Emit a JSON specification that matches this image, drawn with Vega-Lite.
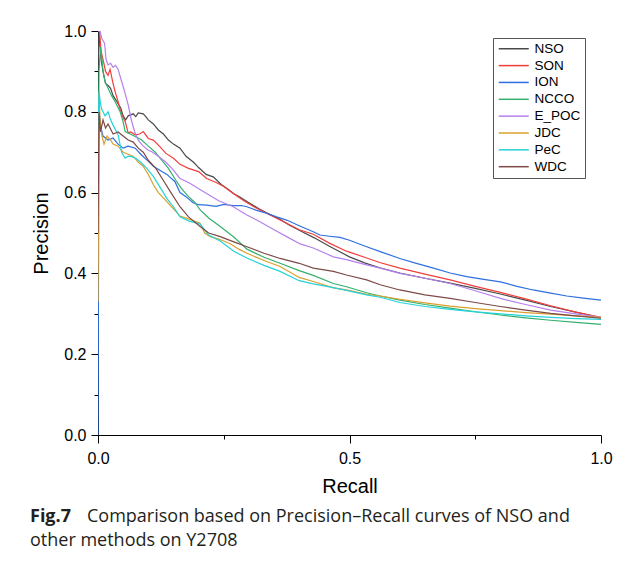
{
  "$schema": "https://vega.github.io/schema/vega-lite/v6.json",
  "width": 503,
  "height": 404,
  "autosize": {"type": "none"},
  "padding": {"left": 98, "top": 31, "right": 34, "bottom": 127},
  "background": "white",
  "config": {
    "view": {"stroke": null},
    "axis": {"labelFont": "Liberation Sans", "titleFont": "Liberation Sans", "labelColor": "black", "titleColor": "black", "domainColor": "black", "tickColor": "black", "grid": false, "titleFontWeight": "normal"}
  },
  "title": {
    "text": "Fig.7",
    "subtitle": ["\u200b\u2003\u2003\u2003\u2009Comparison based on Precision\u2013Recall curves of NSO and", "other methods on Y2708"],
    "orient": "bottom",
    "anchor": "start",
    "frame": "group",
    "dx": -68,
    "offset": 12,
    "font": "Open Sans",
    "fontSize": 18,
    "fontWeight": "bold",
    "color": "#231f20",
    "subtitleFont": "Open Sans",
    "subtitleFontSize": 18,
    "subtitleColor": "#231f20",
    "subtitlePadding": -18,
    "subtitleLineHeight": 24
  },
  "data": {
    "values": [
      {"m":"NSO","r":0,"p":0.9},{"m":"NSO","r":0.002,"p":1.0},{"m":"NSO","r":0.006,"p":0.93},{"m":"NSO","r":0.01,"p":0.9},{"m":"NSO","r":0.015,"p":0.87},{"m":"NSO","r":0.02,"p":0.865},{"m":"NSO","r":0.025,"p":0.858},{"m":"NSO","r":0.03,"p":0.84},{"m":"NSO","r":0.035,"p":0.83},{"m":"NSO","r":0.04,"p":0.82},{"m":"NSO","r":0.045,"p":0.81},{"m":"NSO","r":0.05,"p":0.79},{"m":"NSO","r":0.055,"p":0.78},{"m":"NSO","r":0.06,"p":0.79},{"m":"NSO","r":0.07,"p":0.795},{"m":"NSO","r":0.075,"p":0.788},{"m":"NSO","r":0.08,"p":0.797},{"m":"NSO","r":0.09,"p":0.795},{"m":"NSO","r":0.095,"p":0.788},{"m":"NSO","r":0.1,"p":0.78},{"m":"NSO","r":0.11,"p":0.77},{"m":"NSO","r":0.12,"p":0.755},{"m":"NSO","r":0.13,"p":0.745},{"m":"NSO","r":0.14,"p":0.73},{"m":"NSO","r":0.15,"p":0.72},{"m":"NSO","r":0.163,"p":0.71},{"m":"NSO","r":0.175,"p":0.69},{"m":"NSO","r":0.19,"p":0.675},{"m":"NSO","r":0.2,"p":0.662},{"m":"NSO","r":0.215,"p":0.645},{"m":"NSO","r":0.229,"p":0.639},{"m":"NSO","r":0.245,"p":0.62},{"m":"NSO","r":0.26,"p":0.607},{"m":"NSO","r":0.27,"p":0.597},{"m":"NSO","r":0.282,"p":0.589},{"m":"NSO","r":0.3,"p":0.575},{"m":"NSO","r":0.32,"p":0.56},{"m":"NSO","r":0.335,"p":0.55},{"m":"NSO","r":0.36,"p":0.535},{"m":"NSO","r":0.38,"p":0.52},{"m":"NSO","r":0.4,"p":0.507},{"m":"NSO","r":0.43,"p":0.488},{"m":"NSO","r":0.46,"p":0.467},{"m":"NSO","r":0.5,"p":0.441},{"m":"NSO","r":0.53,"p":0.426},{"m":"NSO","r":0.56,"p":0.414},{"m":"NSO","r":0.6,"p":0.401},{"m":"NSO","r":0.65,"p":0.388},{"m":"NSO","r":0.7,"p":0.376},{"m":"NSO","r":0.75,"p":0.363},{"m":"NSO","r":0.8,"p":0.349},{"m":"NSO","r":0.85,"p":0.334},{"m":"NSO","r":0.9,"p":0.318},{"m":"NSO","r":0.95,"p":0.304},{"m":"NSO","r":1.0,"p":0.29},

      {"m":"SON","r":0,"p":1.0},{"m":"SON","r":0.003,"p":1.0},{"m":"SON","r":0.006,"p":0.95},{"m":"SON","r":0.011,"p":0.924},{"m":"SON","r":0.015,"p":0.9},{"m":"SON","r":0.02,"p":0.89},{"m":"SON","r":0.024,"p":0.905},{"m":"SON","r":0.03,"p":0.87},{"m":"SON","r":0.034,"p":0.85},{"m":"SON","r":0.04,"p":0.825},{"m":"SON","r":0.044,"p":0.805},{"m":"SON","r":0.05,"p":0.785},{"m":"SON","r":0.054,"p":0.776},{"m":"SON","r":0.06,"p":0.748},{"m":"SON","r":0.065,"p":0.75},{"m":"SON","r":0.074,"p":0.743},{"m":"SON","r":0.083,"p":0.745},{"m":"SON","r":0.09,"p":0.751},{"m":"SON","r":0.1,"p":0.734},{"m":"SON","r":0.11,"p":0.73},{"m":"SON","r":0.123,"p":0.714},{"m":"SON","r":0.135,"p":0.697},{"m":"SON","r":0.15,"p":0.685},{"m":"SON","r":0.163,"p":0.67},{"m":"SON","r":0.18,"p":0.66},{"m":"SON","r":0.2,"p":0.652},{"m":"SON","r":0.216,"p":0.635},{"m":"SON","r":0.235,"p":0.625},{"m":"SON","r":0.25,"p":0.615},{"m":"SON","r":0.269,"p":0.598},{"m":"SON","r":0.29,"p":0.58},{"m":"SON","r":0.31,"p":0.565},{"m":"SON","r":0.322,"p":0.557},{"m":"SON","r":0.35,"p":0.54},{"m":"SON","r":0.375,"p":0.524},{"m":"SON","r":0.4,"p":0.508},{"m":"SON","r":0.428,"p":0.497},{"m":"SON","r":0.46,"p":0.475},{"m":"SON","r":0.494,"p":0.455},{"m":"SON","r":0.53,"p":0.44},{"m":"SON","r":0.56,"p":0.427},{"m":"SON","r":0.6,"p":0.413},{"m":"SON","r":0.65,"p":0.398},{"m":"SON","r":0.7,"p":0.384},{"m":"SON","r":0.75,"p":0.368},{"m":"SON","r":0.8,"p":0.353},{"m":"SON","r":0.85,"p":0.337},{"m":"SON","r":0.9,"p":0.32},{"m":"SON","r":0.95,"p":0.304},{"m":"SON","r":1.0,"p":0.291},

      {"m":"ION","r":0,"p":0},{"m":"ION","r":0.002,"p":0.8},{"m":"ION","r":0.006,"p":0.76},{"m":"ION","r":0.01,"p":0.74},{"m":"ION","r":0.02,"p":0.73},{"m":"ION","r":0.03,"p":0.735},{"m":"ION","r":0.04,"p":0.72},{"m":"ION","r":0.05,"p":0.71},{"m":"ION","r":0.06,"p":0.715},{"m":"ION","r":0.074,"p":0.71},{"m":"ION","r":0.085,"p":0.695},{"m":"ION","r":0.097,"p":0.681},{"m":"ION","r":0.11,"p":0.665},{"m":"ION","r":0.127,"p":0.652},{"m":"ION","r":0.137,"p":0.645},{"m":"ION","r":0.153,"p":0.627},{"m":"ION","r":0.163,"p":0.6},{"m":"ION","r":0.175,"p":0.59},{"m":"ION","r":0.189,"p":0.575},{"m":"ION","r":0.2,"p":0.57},{"m":"ION","r":0.216,"p":0.569},{"m":"ION","r":0.235,"p":0.566},{"m":"ION","r":0.25,"p":0.571},{"m":"ION","r":0.269,"p":0.568},{"m":"ION","r":0.285,"p":0.568},{"m":"ION","r":0.296,"p":0.565},{"m":"ION","r":0.315,"p":0.556},{"m":"ION","r":0.335,"p":0.549},{"m":"ION","r":0.355,"p":0.54},{"m":"ION","r":0.375,"p":0.532},{"m":"ION","r":0.4,"p":0.518},{"m":"ION","r":0.428,"p":0.503},{"m":"ION","r":0.441,"p":0.495},{"m":"ION","r":0.46,"p":0.492},{"m":"ION","r":0.481,"p":0.489},{"m":"ION","r":0.5,"p":0.482},{"m":"ION","r":0.534,"p":0.466},{"m":"ION","r":0.561,"p":0.454},{"m":"ION","r":0.6,"p":0.437},{"m":"ION","r":0.633,"p":0.425},{"m":"ION","r":0.667,"p":0.413},{"m":"ION","r":0.7,"p":0.401},{"m":"ION","r":0.733,"p":0.392},{"m":"ION","r":0.767,"p":0.385},{"m":"ION","r":0.8,"p":0.379},{"m":"ION","r":0.833,"p":0.368},{"m":"ION","r":0.865,"p":0.359},{"m":"ION","r":0.9,"p":0.351},{"m":"ION","r":0.932,"p":0.344},{"m":"ION","r":0.965,"p":0.339},{"m":"ION","r":1.0,"p":0.334},

      {"m":"NCCO","r":0,"p":0.6},{"m":"NCCO","r":0.002,"p":0.9},{"m":"NCCO","r":0.005,"p":0.96},{"m":"NCCO","r":0.007,"p":0.94},{"m":"NCCO","r":0.01,"p":0.9},{"m":"NCCO","r":0.014,"p":0.875},{"m":"NCCO","r":0.02,"p":0.858},{"m":"NCCO","r":0.027,"p":0.84},{"m":"NCCO","r":0.034,"p":0.825},{"m":"NCCO","r":0.044,"p":0.8},{"m":"NCCO","r":0.05,"p":0.775},{"m":"NCCO","r":0.054,"p":0.751},{"m":"NCCO","r":0.067,"p":0.743},{"m":"NCCO","r":0.08,"p":0.735},{"m":"NCCO","r":0.087,"p":0.73},{"m":"NCCO","r":0.1,"p":0.715},{"m":"NCCO","r":0.113,"p":0.701},{"m":"NCCO","r":0.127,"p":0.68},{"m":"NCCO","r":0.14,"p":0.66},{"m":"NCCO","r":0.155,"p":0.63},{"m":"NCCO","r":0.166,"p":0.61},{"m":"NCCO","r":0.18,"p":0.59},{"m":"NCCO","r":0.193,"p":0.575},{"m":"NCCO","r":0.203,"p":0.557},{"m":"NCCO","r":0.22,"p":0.537},{"m":"NCCO","r":0.243,"p":0.516},{"m":"NCCO","r":0.27,"p":0.49},{"m":"NCCO","r":0.296,"p":0.46},{"m":"NCCO","r":0.33,"p":0.44},{"m":"NCCO","r":0.362,"p":0.425},{"m":"NCCO","r":0.4,"p":0.407},{"m":"NCCO","r":0.428,"p":0.395},{"m":"NCCO","r":0.468,"p":0.375},{"m":"NCCO","r":0.494,"p":0.367},{"m":"NCCO","r":0.534,"p":0.352},{"m":"NCCO","r":0.561,"p":0.344},{"m":"NCCO","r":0.6,"p":0.334},{"m":"NCCO","r":0.65,"p":0.323},{"m":"NCCO","r":0.7,"p":0.314},{"m":"NCCO","r":0.75,"p":0.305},{"m":"NCCO","r":0.8,"p":0.297},{"m":"NCCO","r":0.85,"p":0.29},{"m":"NCCO","r":0.9,"p":0.284},{"m":"NCCO","r":0.95,"p":0.279},{"m":"NCCO","r":1.0,"p":0.274},

      {"m":"E_POC","r":0,"p":1.0},{"m":"E_POC","r":0.004,"p":1.0},{"m":"E_POC","r":0.008,"p":0.98},{"m":"E_POC","r":0.013,"p":0.97},{"m":"E_POC","r":0.016,"p":0.93},{"m":"E_POC","r":0.02,"p":0.916},{"m":"E_POC","r":0.025,"p":0.92},{"m":"E_POC","r":0.03,"p":0.91},{"m":"E_POC","r":0.035,"p":0.915},{"m":"E_POC","r":0.04,"p":0.905},{"m":"E_POC","r":0.047,"p":0.875},{"m":"E_POC","r":0.053,"p":0.85},{"m":"E_POC","r":0.06,"p":0.817},{"m":"E_POC","r":0.067,"p":0.776},{"m":"E_POC","r":0.073,"p":0.75},{"m":"E_POC","r":0.08,"p":0.73},{"m":"E_POC","r":0.09,"p":0.715},{"m":"E_POC","r":0.1,"p":0.705},{"m":"E_POC","r":0.107,"p":0.701},{"m":"E_POC","r":0.12,"p":0.69},{"m":"E_POC","r":0.135,"p":0.675},{"m":"E_POC","r":0.147,"p":0.66},{"m":"E_POC","r":0.163,"p":0.635},{"m":"E_POC","r":0.18,"p":0.625},{"m":"E_POC","r":0.193,"p":0.615},{"m":"E_POC","r":0.216,"p":0.598},{"m":"E_POC","r":0.24,"p":0.58},{"m":"E_POC","r":0.269,"p":0.565},{"m":"E_POC","r":0.295,"p":0.545},{"m":"E_POC","r":0.322,"p":0.528},{"m":"E_POC","r":0.35,"p":0.508},{"m":"E_POC","r":0.375,"p":0.491},{"m":"E_POC","r":0.402,"p":0.473},{"m":"E_POC","r":0.428,"p":0.463},{"m":"E_POC","r":0.468,"p":0.441},{"m":"E_POC","r":0.494,"p":0.434},{"m":"E_POC","r":0.534,"p":0.421},{"m":"E_POC","r":0.561,"p":0.413},{"m":"E_POC","r":0.6,"p":0.4},{"m":"E_POC","r":0.65,"p":0.388},{"m":"E_POC","r":0.7,"p":0.375},{"m":"E_POC","r":0.75,"p":0.357},{"m":"E_POC","r":0.8,"p":0.338},{"m":"E_POC","r":0.85,"p":0.323},{"m":"E_POC","r":0.9,"p":0.309},{"m":"E_POC","r":0.95,"p":0.3},{"m":"E_POC","r":1.0,"p":0.291},

      {"m":"JDC","r":0,"p":0.33},{"m":"JDC","r":0.002,"p":0.85},{"m":"JDC","r":0.004,"p":0.78},{"m":"JDC","r":0.008,"p":0.74},{"m":"JDC","r":0.012,"p":0.72},{"m":"JDC","r":0.018,"p":0.74},{"m":"JDC","r":0.025,"p":0.73},{"m":"JDC","r":0.03,"p":0.72},{"m":"JDC","r":0.04,"p":0.715},{"m":"JDC","r":0.05,"p":0.7},{"m":"JDC","r":0.06,"p":0.695},{"m":"JDC","r":0.07,"p":0.69},{"m":"JDC","r":0.08,"p":0.675},{"m":"JDC","r":0.09,"p":0.665},{"m":"JDC","r":0.1,"p":0.645},{"m":"JDC","r":0.11,"p":0.62},{"m":"JDC","r":0.12,"p":0.6},{"m":"JDC","r":0.135,"p":0.58},{"m":"JDC","r":0.15,"p":0.56},{"m":"JDC","r":0.163,"p":0.542},{"m":"JDC","r":0.18,"p":0.535},{"m":"JDC","r":0.203,"p":0.524},{"m":"JDC","r":0.212,"p":0.5},{"m":"JDC","r":0.223,"p":0.491},{"m":"JDC","r":0.24,"p":0.485},{"m":"JDC","r":0.262,"p":0.474},{"m":"JDC","r":0.28,"p":0.46},{"m":"JDC","r":0.296,"p":0.45},{"m":"JDC","r":0.33,"p":0.432},{"m":"JDC","r":0.362,"p":0.417},{"m":"JDC","r":0.4,"p":0.39},{"m":"JDC","r":0.428,"p":0.38},{"m":"JDC","r":0.468,"p":0.364},{"m":"JDC","r":0.494,"p":0.359},{"m":"JDC","r":0.534,"p":0.348},{"m":"JDC","r":0.561,"p":0.344},{"m":"JDC","r":0.6,"p":0.336},{"m":"JDC","r":0.65,"p":0.327},{"m":"JDC","r":0.7,"p":0.319},{"m":"JDC","r":0.75,"p":0.313},{"m":"JDC","r":0.8,"p":0.308},{"m":"JDC","r":0.85,"p":0.303},{"m":"JDC","r":0.9,"p":0.299},{"m":"JDC","r":0.95,"p":0.295},{"m":"JDC","r":1.0,"p":0.291},

      {"m":"PeC","r":0,"p":0.75},{"m":"PeC","r":0.002,"p":0.85},{"m":"PeC","r":0.005,"p":0.82},{"m":"PeC","r":0.007,"p":0.808},{"m":"PeC","r":0.014,"p":0.79},{"m":"PeC","r":0.02,"p":0.8},{"m":"PeC","r":0.025,"p":0.78},{"m":"PeC","r":0.03,"p":0.767},{"m":"PeC","r":0.04,"p":0.743},{"m":"PeC","r":0.047,"p":0.7},{"m":"PeC","r":0.054,"p":0.685},{"m":"PeC","r":0.06,"p":0.69},{"m":"PeC","r":0.067,"p":0.689},{"m":"PeC","r":0.075,"p":0.685},{"m":"PeC","r":0.085,"p":0.675},{"m":"PeC","r":0.097,"p":0.66},{"m":"PeC","r":0.11,"p":0.64},{"m":"PeC","r":0.125,"p":0.61},{"m":"PeC","r":0.137,"p":0.585},{"m":"PeC","r":0.15,"p":0.565},{"m":"PeC","r":0.163,"p":0.54},{"m":"PeC","r":0.18,"p":0.53},{"m":"PeC","r":0.203,"p":0.522},{"m":"PeC","r":0.22,"p":0.495},{"m":"PeC","r":0.243,"p":0.48},{"m":"PeC","r":0.27,"p":0.455},{"m":"PeC","r":0.296,"p":0.438},{"m":"PeC","r":0.33,"p":0.42},{"m":"PeC","r":0.362,"p":0.405},{"m":"PeC","r":0.4,"p":0.382},{"m":"PeC","r":0.428,"p":0.374},{"m":"PeC","r":0.468,"p":0.365},{"m":"PeC","r":0.494,"p":0.358},{"m":"PeC","r":0.534,"p":0.347},{"m":"PeC","r":0.561,"p":0.341},{"m":"PeC","r":0.6,"p":0.328},{"m":"PeC","r":0.65,"p":0.318},{"m":"PeC","r":0.7,"p":0.311},{"m":"PeC","r":0.75,"p":0.305},{"m":"PeC","r":0.8,"p":0.3},{"m":"PeC","r":0.85,"p":0.295},{"m":"PeC","r":0.9,"p":0.291},{"m":"PeC","r":0.95,"p":0.288},{"m":"PeC","r":1.0,"p":0.286},

      {"m":"WDC","r":0,"p":0.5},{"m":"WDC","r":0.002,"p":0.8},{"m":"WDC","r":0.005,"p":0.75},{"m":"WDC","r":0.01,"p":0.78},{"m":"WDC","r":0.015,"p":0.76},{"m":"WDC","r":0.02,"p":0.77},{"m":"WDC","r":0.03,"p":0.745},{"m":"WDC","r":0.04,"p":0.75},{"m":"WDC","r":0.05,"p":0.74},{"m":"WDC","r":0.06,"p":0.73},{"m":"WDC","r":0.07,"p":0.725},{"m":"WDC","r":0.08,"p":0.71},{"m":"WDC","r":0.09,"p":0.7},{"m":"WDC","r":0.1,"p":0.68},{"m":"WDC","r":0.115,"p":0.66},{"m":"WDC","r":0.13,"p":0.63},{"m":"WDC","r":0.145,"p":0.6},{"m":"WDC","r":0.163,"p":0.565},{"m":"WDC","r":0.18,"p":0.54},{"m":"WDC","r":0.203,"p":0.516},{"m":"WDC","r":0.22,"p":0.5},{"m":"WDC","r":0.243,"p":0.491},{"m":"WDC","r":0.27,"p":0.478},{"m":"WDC","r":0.296,"p":0.466},{"m":"WDC","r":0.33,"p":0.45},{"m":"WDC","r":0.362,"p":0.437},{"m":"WDC","r":0.4,"p":0.425},{"m":"WDC","r":0.428,"p":0.413},{"m":"WDC","r":0.468,"p":0.405},{"m":"WDC","r":0.494,"p":0.396},{"m":"WDC","r":0.534,"p":0.384},{"m":"WDC","r":0.561,"p":0.372},{"m":"WDC","r":0.6,"p":0.359},{"m":"WDC","r":0.65,"p":0.347},{"m":"WDC","r":0.7,"p":0.338},{"m":"WDC","r":0.75,"p":0.328},{"m":"WDC","r":0.8,"p":0.318},{"m":"WDC","r":0.85,"p":0.309},{"m":"WDC","r":0.9,"p":0.301},{"m":"WDC","r":0.95,"p":0.295},{"m":"WDC","r":1.0,"p":0.289}
    ]
  },
  "mark": {"type": "line", "strokeWidth": 1.2, "clip": true},
  "encoding": {
    "x": {
      "field": "r", "type": "quantitative",
      "scale": {"domain": [0, 1], "nice": false, "zero": false},
      "axis": {
        "title": "Recall",
        "values": [0, 0.25, 0.5, 0.75, 1],
        "labelExpr": "datum.value == 0.25 || datum.value == 0.75 ? '' : format(datum.value, '.1f')",
        "tickSize": {"condition": {"test": "datum.value == 0.25 || datum.value == 0.75", "value": 4}, "value": 8},
        "labelFontSize": 16, "labelPadding": 7, "labelFlush": false,
        "titleFontSize": 20, "titlePadding": 10
      }
    },
    "y": {
      "field": "p", "type": "quantitative",
      "scale": {"domain": [0, 1], "nice": false},
      "axis": {
        "title": "Precision",
        "values": [0, 0.1, 0.2, 0.3, 0.4, 0.5, 0.6, 0.7, 0.8, 0.9, 1.0],
        "labelExpr": "round(datum.value * 10) % 2 == 1 ? '' : format(datum.value, '.1f')",
        "tickSize": {"condition": {"test": "round(datum.value * 10) % 2 == 1", "value": 4}, "value": 7},
        "labelFontSize": 16, "labelPadding": 5, "labelFlush": false,
        "titleFontSize": 20, "titlePadding": 12
      }
    },
    "color": {
      "field": "m", "type": "nominal",
      "scale": {
        "domain": ["NSO", "SON", "ION", "NCCO", "E_POC", "JDC", "PeC", "WDC"],
        "range": ["#4a4a4a", "#f23d3d", "#2f6fe0", "#35b06c", "#b580ee", "#d9a02e", "#25d2da", "#7d4a48"]
      },
      "legend": {
        "title": null,
        "orient": "none",
        "legendX": 395,
        "legendY": 7,
        "strokeColor": "#555555",
        "fillColor": "white",
        "padding": 4,
        "symbolType": "M-1,0H5",
        "symbolSize": 100,
        "symbolStrokeWidth": 1.5,
        "labelOffset": 24,
        "labelFont": "Liberation Sans",
        "labelFontSize": 13.5,
        "labelColor": "black",
        "rowPadding": 1.85
      }
    }
  }
}
